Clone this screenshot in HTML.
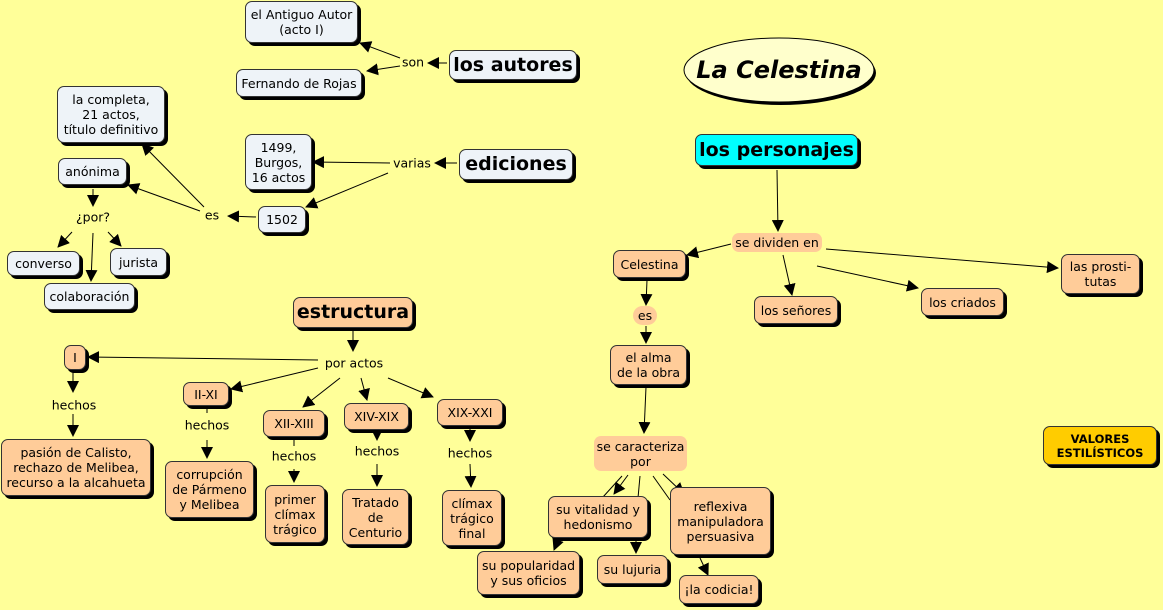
<!DOCTYPE html>
<html><head><meta charset="utf-8"><style>
body{margin:0;width:1163px;height:610px;background:#ffff99;position:relative;overflow:hidden;font-family:"DejaVu Sans","Liberation Sans",sans-serif;font-size:12.5px;color:#000}
.n{position:absolute;box-sizing:border-box;border:1px solid #333;border-radius:7px;box-shadow:3px 3px 0 #000;display:flex;align-items:center;justify-content:center;text-align:center;line-height:15px}
.b{background:#eef3f8}
.o{background:#ffcc99}
.p{position:absolute;background:#ffcc99;border-radius:7px;display:flex;align-items:center;justify-content:center;text-align:center;line-height:15px}
.t{position:absolute;transform:translate(-50%,-50%);white-space:nowrap;background:#ffff99;padding:0 1px}
.big{font-weight:bold;font-size:19px}
svg{position:absolute;left:0;top:0}
</style></head><body>
<svg width="1163" height="610">
<defs><marker id="a" markerWidth="12" markerHeight="12" refX="11" refY="6" orient="auto" markerUnits="userSpaceOnUse"><path d="M0,0 L12,6 L0,12z" fill="#000"/></marker></defs>
<g stroke="#000" stroke-width="1" fill="none" marker-end="url(#a)">
<line x1="400" y1="58" x2="360" y2="43"/>
<line x1="400" y1="66" x2="367" y2="71"/>
<line x1="447" y1="63" x2="428" y2="63"/>
<line x1="457" y1="163" x2="435" y2="163"/>
<line x1="390" y1="163" x2="313" y2="162"/>
<line x1="388" y1="173" x2="306" y2="207"/>
<line x1="256" y1="217" x2="228" y2="216"/>
<line x1="204" y1="207" x2="142" y2="144"/>
<line x1="200" y1="211" x2="128" y2="185"/>
<line x1="93" y1="189" x2="93" y2="206"/>
<line x1="72" y1="232" x2="58" y2="247"/>
<line x1="93" y1="233" x2="91" y2="281"/>
<line x1="108" y1="232" x2="121" y2="246"/>
<line x1="777" y1="170" x2="778" y2="231"/>
<line x1="731" y1="244" x2="687" y2="255"/>
<line x1="783" y1="255" x2="792" y2="295"/>
<line x1="817" y1="266" x2="918" y2="288"/>
<line x1="826" y1="249" x2="1058" y2="268"/>
<line x1="647" y1="280" x2="646" y2="305"/>
<line x1="646" y1="326" x2="646" y2="343"/>
<line x1="646" y1="387" x2="644" y2="433"/>
<line x1="628" y1="475" x2="614" y2="494"/>
<line x1="663" y1="474" x2="684" y2="494"/>
<line x1="558" y1="540" x2="554" y2="550"/>
<line x1="636" y1="540" x2="636" y2="553"/>
<line x1="700" y1="558" x2="708" y2="575"/>
<line x1="353" y1="331" x2="353" y2="351"/>
<line x1="318" y1="360" x2="88" y2="357"/>
<line x1="318" y1="368" x2="231" y2="389"/>
<line x1="340" y1="378" x2="303" y2="407"/>
<line x1="361" y1="378" x2="367" y2="400"/>
<line x1="388" y1="378" x2="433" y2="397"/>
<line x1="73" y1="372" x2="73" y2="392"/>
<line x1="73" y1="414" x2="73" y2="436"/>
<line x1="207" y1="440" x2="207" y2="458"/>
<line x1="294" y1="469" x2="294" y2="482"/>
<line x1="377" y1="464" x2="377" y2="486"/>
<line x1="470" y1="428" x2="470" y2="441"/>
<line x1="470" y1="464" x2="471" y2="487"/>
<line x1="377" y1="430" x2="377" y2="440"/>
</g>
<g stroke="#000" stroke-width="1">
<line x1="622" y1="476" x2="603" y2="497"/>
<line x1="640" y1="476" x2="638" y2="498"/>
<line x1="653" y1="476" x2="670" y2="500"/>
<line x1="294" y1="437" x2="294" y2="446"/>
<line x1="207" y1="407" x2="207" y2="413"/>
</g>
<ellipse cx="781" cy="73" rx="95" ry="32" fill="#000"/>
<ellipse cx="779" cy="70" rx="95" ry="32" fill="#ffffcc" stroke="#000"/>
</svg>
<div class="t" style="left:779px;top:70px;background:none;font:italic bold 24px 'DejaVu Sans',sans-serif">La Celestina</div>

<div class="n b" style="left:245px;top:1px;width:113px;height:42px">el Antiguo Autor<br>(acto I)</div>
<div class="n b" style="left:236px;top:69px;width:126px;height:28px">Fernando de Rojas</div>
<div class="n b big" style="left:449px;top:50px;width:128px;height:30px">los autores</div>
<div class="t" style="left:413px;top:62px">son</div>
<div class="n b" style="left:57px;top:86px;width:108px;height:57px">la completa,<br>21 actos,<br>título definitivo</div>
<div class="n b" style="left:58px;top:158px;width:69px;height:27px">anónima</div>
<div class="t" style="left:93px;top:217px">¿por?</div>
<div class="n b" style="left:7px;top:251px;width:73px;height:25px">converso</div>
<div class="n b" style="left:110px;top:248px;width:57px;height:28px">jurista</div>
<div class="n b" style="left:44px;top:283px;width:91px;height:27px">colaboración</div>
<div class="t" style="left:212px;top:215px">es</div>
<div class="n b" style="left:258px;top:206px;width:48px;height:27px">1502</div>
<div class="n b" style="left:245px;top:134px;width:67px;height:56px">1499,<br>Burgos,<br>16 actos</div>
<div class="t" style="left:412px;top:163px">varias</div>
<div class="n b big" style="left:459px;top:149px;width:114px;height:31px">ediciones</div>

<div class="n big" style="left:695px;top:134px;width:163px;height:32px;background:#00ffff">los personajes</div>
<div class="p" style="left:732px;top:233px;width:90px;height:19px">se dividen en</div>
<div class="n o" style="left:613px;top:250px;width:73px;height:28px">Celestina</div>
<div class="n o" style="left:754px;top:296px;width:84px;height:28px">los señores</div>
<div class="n o" style="left:921px;top:288px;width:83px;height:28px">los criados</div>
<div class="n o" style="left:1061px;top:254px;width:79px;height:40px">las prosti-<br>tutas</div>
<div class="p" style="left:633px;top:306px;width:24px;height:19px;border-radius:10px">es</div>
<div class="n o" style="left:610px;top:345px;width:77px;height:40px">el alma<br>de la obra</div>
<div class="p" style="left:594px;top:436px;width:93px;height:35px">se caracteriza<br>por</div>
<div class="n o" style="left:548px;top:496px;width:100px;height:42px">su vitalidad y<br>hedonismo</div>
<div class="n o" style="left:670px;top:487px;width:101px;height:68px">reflexiva<br>manipuladora<br>persuasiva</div>
<div class="n o" style="left:477px;top:551px;width:103px;height:44px">su popularidad<br>y sus oficios</div>
<div class="n o" style="left:597px;top:555px;width:71px;height:29px">su lujuria</div>
<div class="n o" style="left:679px;top:575px;width:80px;height:29px">¡la codicia!</div>
<div class="n" style="left:1043px;top:426px;width:114px;height:39px;background:#ffcc00;font-weight:bold;font-size:11.5px;line-height:14px">VALORES<br>ESTILÍSTICOS</div>

<div class="n o big" style="left:293px;top:297px;width:120px;height:31px">estructura</div>
<div class="t" style="left:354px;top:363px">por actos</div>
<div class="n o" style="left:64px;top:345px;width:22px;height:25px">I</div>
<div class="t" style="left:74px;top:405px">hechos</div>
<div class="n o" style="left:1px;top:439px;width:150px;height:57px">pasión de Calisto,<br>rechazo de Melibea,<br>recurso a la alcahueta</div>
<div class="n o" style="left:183px;top:382px;width:46px;height:24px">II-XI</div>
<div class="t" style="left:207px;top:425px">hechos</div>
<div class="n o" style="left:165px;top:461px;width:89px;height:57px">corrupción<br>de Pármeno<br>y Melibea</div>
<div class="n o" style="left:263px;top:410px;width:62px;height:27px">XII-XIII</div>
<div class="t" style="left:294px;top:456px">hechos</div>
<div class="n o" style="left:265px;top:485px;width:60px;height:58px">primer<br>clímax<br>trágico</div>
<div class="n o" style="left:344px;top:403px;width:65px;height:27px">XIV-XIX</div>
<div class="t" style="left:377px;top:451px">hechos</div>
<div class="n o" style="left:342px;top:489px;width:67px;height:56px">Tratado<br>de<br>Centurio</div>
<div class="n o" style="left:437px;top:399px;width:66px;height:27px">XIX-XXI</div>
<div class="t" style="left:470px;top:453px">hechos</div>
<div class="n o" style="left:442px;top:490px;width:60px;height:56px">clímax<br>trágico<br>final</div>
</body></html>
